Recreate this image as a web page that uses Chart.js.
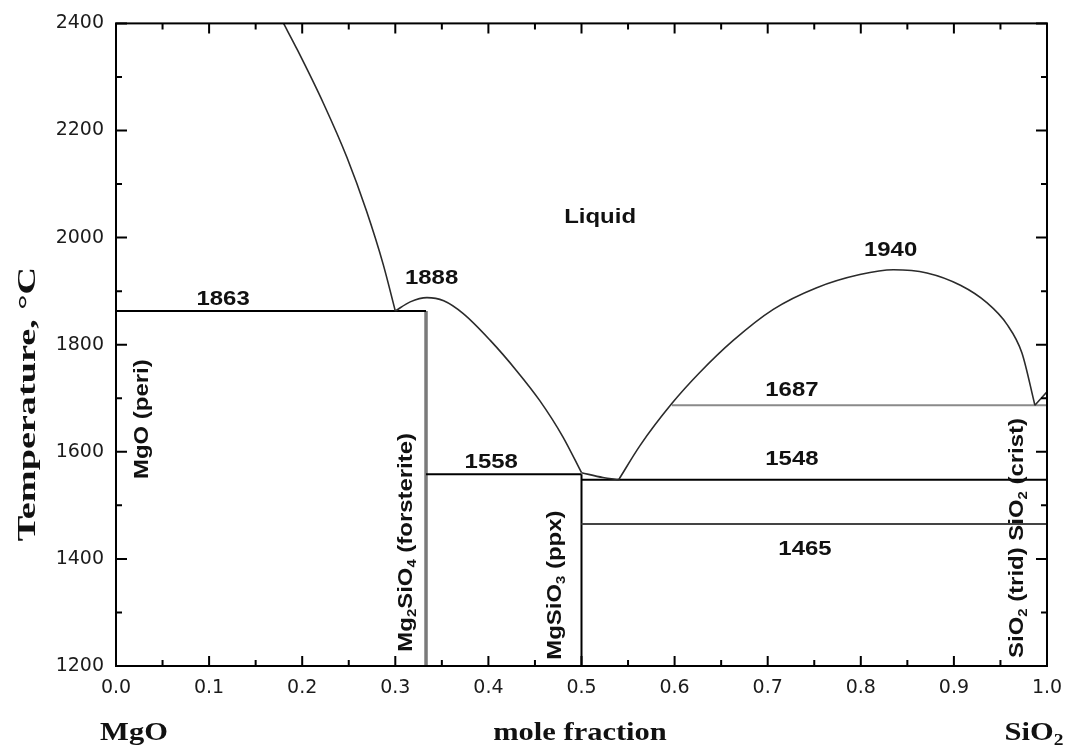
<!DOCTYPE html>
<html>
<head>
<meta charset="utf-8">
<title>MgO - SiO2</title>
<script src="https://cdn.jsdelivr.net/npm/chart.js@4.4.1/dist/chart.umd.min.js"></script>
<style>
html, body { margin: 0; padding: 0; background: #fff; }
</style>
</head>
<body>
<canvas id="miGrafico" width="1074" height="749"></canvas>
<script>
// ------------------------------------------------------------------------------
// MgO - SiO2 diagrama de fases (fraccion molar SiO2 vs temperatura)
// ------------------------------------------------------------------------------

// liquidus MgO (periclasa)
const liqPeriX = [0.180, 0.195, 0.223, 0.248, 0.269, 0.287, 0.300];
const liqPeriT = [2400, 2350, 2250, 2150, 2050, 1950, 1863];

// liquidus forsterita
const liqFoX = [0.300, 0.316, 0.334, 0.352, 0.373, 0.402, 0.430, 0.455, 0.480, 0.500];
const liqFoT = [1863, 1880, 1888, 1882, 1858, 1808, 1752, 1696, 1628, 1561];

// tramo hasta el eutectico
const liqEuX = [0.500, 0.523, 0.540];
const liqEuT = [1561, 1552, 1548];

// liquidus lado SiO2 (domo de inmiscibilidad)
const liqSiX = [0.540, 0.563, 0.597, 0.627, 0.663, 0.706, 0.752, 0.799, 0.835, 0.871, 0.907, 0.935, 0.957, 0.973, 0.987];
const liqSiT = [1548, 1612, 1690, 1748, 1808, 1866, 1906, 1931, 1940, 1934, 1911, 1879, 1838, 1785, 1687];

// liquidus cristobalita
const liqCrX = [0.987, 1.000];
const liqCrT = [1687, 1712];

// lineas invariantes
const isoT    = [1863, 1558, 1548, 1465, 1687];
const isoFrom = [0.000, 0.333, 0.500, 0.500, 0.597];
const isoTo   = [0.333, 0.500, 1.000, 1.000, 1.000];

// compuestos (lineas verticales)
const compX   = [0.333, 0.500];
const compTop = [1863, 1558];

const xTicks = [0, 0.1, 0.2, 0.3, 0.4, 0.5, 0.6, 0.7, 0.8, 0.9, 1.0];
const yTicks = [1200, 1400, 1600, 1800, 2000, 2200, 2400];

const SANS = "'Liberation Sans', Arial, sans-serif";
const SERIF = "'Liberation Serif', 'Times New Roman', serif";
const TICKF = "'DejaVu Sans', sans-serif";

function pts(xs, ys) {
    return xs.map((x, i) => ({ x: x, y: ys[i] }));
}

function curve(xs, ys) {
    return {
        data: pts(xs, ys),
        showLine: true,
        pointRadius: 0,
        borderColor: '#2b2b2b',
        borderWidth: 1.6,
        cubicInterpolationMode: 'monotone',
        fill: false,
    };
}

let datasets = [
    curve(liqPeriX, liqPeriT),
    curve(liqFoX, liqFoT),
    curve(liqEuX, liqEuT),
    curve(liqSiX, liqSiT),
    curve(liqCrX, liqCrT),
];

let isoColor = ['#000', '#000', '#000', '#444', '#8a8a8a'];
for (let i = 0; i < isoT.length; i++) {
    datasets.push({
        data: pts([isoFrom[i], isoTo[i]], [isoT[i], isoT[i]]),
        showLine: true,
        pointRadius: 0,
        borderColor: isoColor[i],
        borderWidth: 2,
    });
}

let compColor = ['#7a7a7a', '#000'];
let compWidth = [3.5, 2];
for (let i = 0; i < compX.length; i++) {
    datasets.push({
        data: pts([compX[i], compX[i]], [1200, compTop[i]]),
        showLine: true,
        pointRadius: 0,
        borderColor: compColor[i],
        borderWidth: compWidth[i],
    });
}

// texto con subindices, girado y estirado
function drawRich(ctx, parts, cx, cy, o) {
    let size = o.size, sub = Math.round(size * 0.62);
    let fBig = (o.weight || 'bold') + ' ' + size + 'px ' + o.family;
    let fSub = (o.weight || 'bold') + ' ' + sub + 'px ' + o.family;
    let w = 0;
    for (let p of parts) {
        ctx.font = p[1] ? fSub : fBig;
        w += ctx.measureText(p[0]).width;
    }
    ctx.save();
    ctx.translate(cx, cy);
    ctx.rotate(o.rot || 0);
    ctx.scale(o.sx || 1, 1);
    ctx.fillStyle = o.color || '#111';
    ctx.textBaseline = 'alphabetic';
    ctx.textAlign = 'left';
    let x = -w / 2;
    let base = size * 0.36;
    for (let p of parts) {
        ctx.font = p[1] ? fSub : fBig;
        ctx.fillText(p[0], x, p[1] ? base + size * 0.2 : base);
        x += ctx.measureText(p[0]).width;
    }
    ctx.restore();
}

const framePlugin = {
    id: 'frame',
    afterDraw(chart) {
        const ctx = chart.ctx;
        const a = chart.chartArea;
        const sx = chart.scales.x, sy = chart.scales.y;
        ctx.save();
        ctx.strokeStyle = '#000';
        ctx.lineWidth = 2;
        ctx.strokeRect(a.left, a.top, a.right - a.left, a.bottom - a.top);
        ctx.beginPath();
        for (let i = 0; i <= 20; i++) {
            let px = sx.getPixelForValue(i * 0.05);
            let L = i % 2 == 0 ? 10 : 6;
            ctx.moveTo(px, a.bottom); ctx.lineTo(px, a.bottom - L);
            ctx.moveTo(px, a.top); ctx.lineTo(px, a.top + L);
        }
        for (let t = 1200; t <= 2400; t += 100) {
            let py = sy.getPixelForValue(t);
            let L = t % 200 == 0 ? 11 : 6;
            ctx.moveTo(a.left, py); ctx.lineTo(a.left + L, py);
            ctx.moveTo(a.right, py); ctx.lineTo(a.right - L, py);
        }
        ctx.stroke();

        const X = v => sx.getPixelForValue(v);
        const Y = v => sy.getPixelForValue(v);
        const lab = { size: 21, family: SANS, sx: 1.14 };
        const up = Object.assign({}, lab, { rot: -Math.PI / 2 });

        drawRich(ctx, [['Liquid']], X(0.520), Y(2042), lab);
        drawRich(ctx, [['1863']], X(0.115), Y(1889), lab);
        drawRich(ctx, [['1888']], X(0.339), Y(1928), lab);
        drawRich(ctx, [['1940']], X(0.832), Y(1980), lab);
        drawRich(ctx, [['1687']], X(0.726), Y(1719), lab);
        drawRich(ctx, [['1548']], X(0.726), Y(1590), lab);
        drawRich(ctx, [['1558']], X(0.403), Y(1584), lab);
        drawRich(ctx, [['1465']], X(0.740), Y(1422), lab);

        drawRich(ctx, [['MgO (peri)']], X(0.026), Y(1661), up);
        drawRich(ctx, [['Mg'], ['2', 1], ['SiO'], ['4', 1], [' (forsterite)']], X(0.310), Y(1431), up);
        drawRich(ctx, [['MgSiO'], ['3', 1], [' (ppx)']], X(0.470), Y(1351), up);
        drawRich(ctx, [['SiO'], ['2', 1], [' (trid) SiO'], ['2', 1], [' (crist)']], X(0.966), Y(1439), up);

        const ttl = { size: 25, family: SERIF, sx: 1.22 };
        drawRich(ctx, [['mole fraction']], 580, 731, ttl);
        drawRich(ctx, [['MgO']], 134, 731, ttl);
        drawRich(ctx, [['SiO'], ['2', 1]], 1034, 731, ttl);
        drawRich(ctx, [['Temperature, °C']], 26, 404, { size: 26, family: SERIF, sx: 1.47, rot: -Math.PI / 2 });
        ctx.restore();
    }
};

var mostrar = document.getElementById('miGrafico');
var grafico = new Chart(mostrar, {
    type: 'scatter',
    data: { datasets: datasets },
    plugins: [framePlugin],
    options: {
        responsive: false,
        animation: false,
        layout: { padding: { top: 23, right: 27, left: 0, bottom: 0 } },
        plugins: { legend: { display: false }, tooltip: { enabled: false } },
        scales: {
            x: {
                type: 'linear',
                min: 0,
                max: 1,
                afterFit: s => { s.height = 83; },
                afterBuildTicks: s => { s.ticks = xTicks.map(v => ({ value: v })); },
                grid: { display: false, drawTicks: false },
                border: { display: false },
                ticks: {
                    padding: 11,
                    color: '#1b1b1b',
                    font: { family: TICKF, size: 19 },
                    callback: v => v.toFixed(1),
                    maxRotation: 0,
                },
            },
            y: {
                type: 'linear',
                min: 1200,
                max: 2400,
                afterFit: s => { s.width = 116; },
                afterBuildTicks: s => { s.ticks = yTicks.map(v => ({ value: v })); },
                grid: { display: false, drawTicks: false },
                border: { display: false },
                ticks: {
                    padding: 12,
                    color: '#1b1b1b',
                    font: { family: TICKF, size: 19 },
                    callback: v => String(v),
                },
            },
        },
    },
});
</script>
</body>
</html>
